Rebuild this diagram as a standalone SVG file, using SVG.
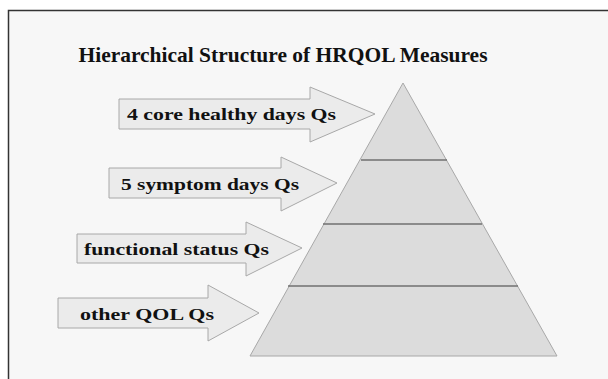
<svg xmlns="http://www.w3.org/2000/svg" width="608" height="379" viewBox="0 0 608 379">
<style>
.t{font-family:"Liberation Serif","Times New Roman",serif;font-weight:bold;fill:#111}
.arrow{fill:#ebebeb;stroke:#a8a8a8;stroke-width:1}
.tier{fill:#dcdcdc;stroke:#a8a8a8;stroke-width:1}
.div{stroke:#707070;stroke-width:1.5}
</style>
<rect x="0" y="0" width="608" height="379" fill="#ffffff"/>
<rect x="8" y="10" width="600" height="369" fill="#f7f7f7"/>
<path d="M8.5 379 V10.5 H608" fill="none" stroke="#333" stroke-width="1.5"/>
<text class="t" x="283" y="62" font-size="22" text-anchor="middle" textLength="409" lengthAdjust="spacingAndGlyphs">Hierarchical Structure of HRQOL Measures</text>
<g id="pyramid">
<polygon class="tier" points="403,83 557,356 250,356"/>
<g class="div">
<line x1="361" y1="160" x2="447" y2="160"/>
<line x1="323" y1="224" x2="482" y2="224"/>
<line x1="288" y1="286" x2="518" y2="286"/>
</g>
</g>
<g id="arrow1">
<polygon class="arrow" points="119,99 310,99 310,87 375,114 310,142 310,129 119,129"/>
<text class="t" x="127" y="120" font-size="17.5" textLength="209" lengthAdjust="spacingAndGlyphs">4 core healthy days Qs</text>
</g>
<g id="arrow2">
<polygon class="arrow" points="109,168 281,168 281,157 337,183 281,211 281,198 109,198"/>
<text class="t" x="121" y="190" font-size="17.5" textLength="178" lengthAdjust="spacingAndGlyphs">5 symptom days Qs</text>
</g>
<g id="arrow3">
<polygon class="arrow" points="77,234 246,234 246,222 302,248 246,276 246,263 77,263"/>
<text class="t" x="84" y="255" font-size="17.5" textLength="185" lengthAdjust="spacingAndGlyphs">functional status Qs</text>
</g>
<g id="arrow4">
<polygon class="arrow" points="58,298 208,298 208,285 259,313 208,341 208,328 58,328"/>
<text class="t" x="80" y="320" font-size="17.5" textLength="134" lengthAdjust="spacingAndGlyphs">other QOL Qs</text>
</g>
</svg>
